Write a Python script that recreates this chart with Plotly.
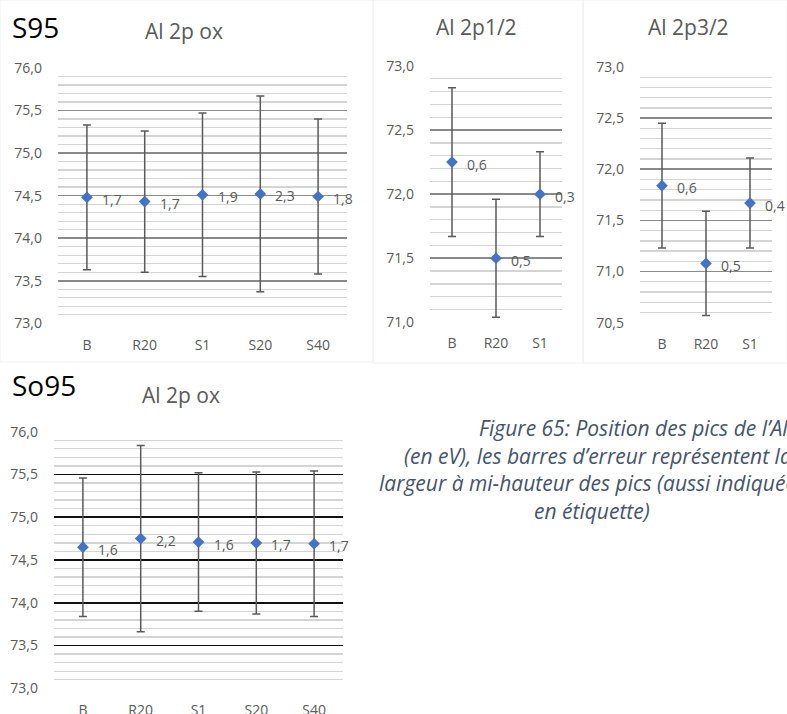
import plotly.graph_objects as go

W, H = 787, 714

# ---------------- data ----------------
s95_cats = ["B", "R20", "S1", "S20", "S40"]
s95_pos = [74.48, 74.43, 74.51, 74.52, 74.49]
s95_err = [0.85, 0.83, 0.96, 1.15, 0.91]
s95_lbl = ["1,7", "1,7", "1,9", "2,3", "1,8"]

p12_cats = ["B", "R20", "S1"]
p12_pos = [72.25, 71.50, 72.00]
p12_err = [0.58, 0.46, 0.33]
p12_lbl = ["0,6", "0,5", "0,3"]

p32_cats = ["B", "R20", "S1"]
p32_pos = [71.84, 71.08, 71.67]
p32_err = [0.61, 0.51, 0.44]
p32_lbl = ["0,6", "0,5", "0,4"]

so95_cats = ["B", "R20", "S1", "S20", "S40"]
so95_pos = [74.65, 74.75, 74.71, 74.70, 74.69]
so95_err = [0.81, 1.09, 0.81, 0.83, 0.85]
so95_lbl = ["1,6", "2,2", "1,6", "1,7", "1,7"]

# ---------------- helpers ----------------
def fx(px):
    return px / W

def fy(py):
    return 1 - py / H

FONT = "'Open Sans', Lato, sans-serif"
GRAY = "#595959"
BLUE = "#4472C4"

fig = go.Figure()

panels = [
    # cats, pos, err, lbl, xdom(px), ydom(px top,bottom), yrange, major colour, x-label standoff
    (s95_cats, s95_pos, s95_err, s95_lbl, (58, 347), (68, 323.3), (73, 76), "#8A8A8A", 12),
    (p12_cats, p12_pos, p12_err, p12_lbl, (430, 562), (66, 322.3), (71, 73), "#8A8A8A", 11),
    (p32_cats, p32_pos, p32_err, p32_lbl, (640, 772), (67, 322.7), (70.5, 73), "#8A8A8A", 11),
    (so95_cats, so95_pos, so95_err, so95_lbl, (54, 343), (431.7, 688.3), (73, 76), "#111111", 12),
]

annots = []
for i, (cats, pos, err, lbl, xd, yd, yr, majc, xso) in enumerate(panels):
    n = i + 1
    xa = "x" if n == 1 else f"x{n}"
    ya = "y" if n == 1 else f"y{n}"
    fig.add_trace(go.Scatter(
        x=cats, y=pos, mode="markers",
        marker=dict(symbol="diamond", size=9, color=BLUE),
        error_y=dict(type="data", array=err, visible=True,
                     color=GRAY, thickness=1.5, width=4),
        cliponaxis=False, showlegend=False, hoverinfo="skip",
        xaxis=xa, yaxis=ya,
    ))
    for c, v, t in zip(cats, pos, lbl):
        annots.append(dict(text=t, x=c, y=v, xref=xa, yref=ya,
                           xanchor="left", yanchor="middle",
                           xshift=13, yshift=-2, showarrow=False,
                           font=dict(family=FONT, size=14, color=GRAY)))
    xkey = "xaxis" if n == 1 else f"xaxis{n}"
    ykey = "yaxis" if n == 1 else f"yaxis{n}"
    fig.update_layout(**{
        xkey: dict(domain=[fx(xd[0]), fx(xd[1])], anchor=ya, automargin=False,
                   type="category", range=[-0.5, len(cats) - 0.5],
                   showgrid=False, zeroline=False, showline=False, ticks="",
                   tickfont=dict(family=FONT, size=14, color=GRAY),
                   ticklabelstandoff=xso, fixedrange=True),
        ykey: dict(domain=[fy(yd[1]), fy(yd[0])], anchor=xa, automargin=False,
                   range=list(yr), dtick=0.5, tick0=0, tickformat=".1f",
                   showgrid=True, gridcolor=majc, gridwidth=1.6,
                   minor=dict(dtick=0.1, tick0=0, showgrid=True,
                              gridcolor="#D4D4D4", gridwidth=1.3),
                   zeroline=False, showline=False, ticks="",
                   tickfont=dict(family=FONT, size=14, color=GRAY),
                   ticklabelstandoff=15, fixedrange=True),
    })

annots += [
    dict(text="S95", x=fx(10), y=fy(27), xanchor="left", yanchor="middle",
         font=dict(family=FONT, size=28, color="#000000")),
    dict(text="Al 2p ox", x=fx(184), y=fy(31), xanchor="center", yanchor="middle",
         font=dict(family=FONT, size=21, color=GRAY)),
    dict(text="Al 2p1/2", x=fx(476), y=fy(27), xanchor="center", yanchor="middle",
         font=dict(family=FONT, size=21, color=GRAY)),
    dict(text="Al 2p3/2", x=fx(688), y=fy(27), xanchor="center", yanchor="middle",
         font=dict(family=FONT, size=21, color=GRAY)),
    dict(text="So95", x=fx(10), y=fy(385), xanchor="left", yanchor="middle",
         font=dict(family=FONT, size=28, color="#000000")),
    dict(text="Al 2p ox", x=fx(181), y=fy(395), xanchor="center", yanchor="middle",
         font=dict(family=FONT, size=21, color=GRAY)),
]

cap_font = dict(family=FONT, size=21, color="#44546A")
cap_lines = [
    ("<i>Figure 65: Position des pics de l’Al 2p</i>", 477, 428),
    ("<i>(en eV), les barres d’erreur représentent la</i>", 402, 456),
    ("<i>largeur à mi-hauteur des pics (aussi indiquée</i>", 377, 483),
    ("<i>en étiquette)</i>", 532, 511),
]
for t, x0, y0 in cap_lines:
    annots.append(dict(text=t, x=fx(x0), y=fy(y0), xanchor="left", yanchor="middle",
                       font=cap_font))

for a in annots:
    a.setdefault("xref", "paper")
    a.setdefault("yref", "paper")
    a.setdefault("showarrow", False)

shapes = []
for (x0, y0, x1, y1) in [(0, 0, 373, 362), (373, 0, 583, 363), (583, 0, 787, 363)]:
    shapes.append(dict(type="rect", xref="paper", yref="paper",
                       x0=fx(x0), x1=fx(x1), y0=fy(y1), y1=fy(y0),
                       line=dict(color="#F0F0F0", width=1), layer="below"))

fig.update_layout(
    width=W, height=H,
    margin=dict(l=0, r=0, t=0, b=0, pad=0, autoexpand=False),
    paper_bgcolor="white", plot_bgcolor="white",
    separators=", ", annotations=annots, shapes=shapes,
    font=dict(family=FONT),
)

page_js = (
    "document.documentElement.style.margin='0';"
    "document.documentElement.style.overflow='hidden';"
    "document.body.style.margin='0';"
    "document.body.style.overflow='hidden';"
    "var gd=document.getElementById('{plot_id}');"
    "gd.style.position='fixed';gd.style.left='0px';gd.style.top='0px';"
)

fig.write_html(
    "out.html",
    config={"displayModeBar": False, "staticPlot": True},
    post_script=page_js,
)
